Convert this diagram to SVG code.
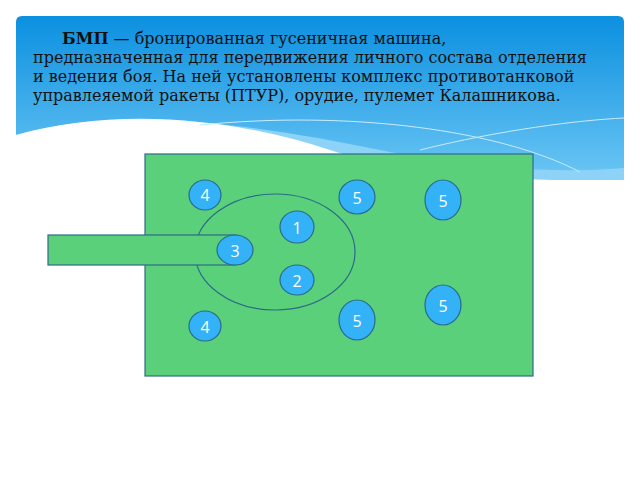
<svg xmlns="http://www.w3.org/2000/svg" width="640" height="480" viewBox="0 0 640 480">
<defs>
<linearGradient id="bg" x1="0" y1="0" x2="0" y2="1"><stop offset="0" stop-color="#0b90e0"/><stop offset="1" stop-color="#6cc6f4"/></linearGradient>
<style>
.t{font-family:"DejaVu Serif",serif;font-size:16px;fill:#111}
.c{fill:#33b2f7;stroke:#2a6a8c;stroke-width:1.2}
.n{font-family:"Open Sans","DejaVu Sans",sans-serif;font-size:16px;fill:#fff;text-anchor:middle}
</style>
</defs>
<rect width="640" height="480" fill="#fff"/>
<g id="header">
<path d="M16,22 Q16,16 22,16 H618 Q624,16 624,22 V180 H16 Z" fill="url(#bg)"/>
<path d="M16,135 C120,105 260,125 380,150 C450,165 540,175 624,168 V180 H16 Z" fill="#8dd3f7"/>
<path d="M16,135 C120,105 240,120 330,150 C390,170 470,180 640,182 V200 H0 V140 Z" fill="#fff"/>
<path d="M200,125 C350,110 500,130 580,172 M420,150 C500,130 580,120 624,118" fill="none" stroke="#c8ecfc" stroke-width="1"/>
<text class="t" x="62" y="44"><tspan font-weight="bold">БМП</tspan> — бронированная гусеничная машина,</text>
<text class="t" x="33" y="63">предназначенная для передвижения личного состава отделения</text>
<text class="t" x="33" y="82">и ведения боя. На ней установлены комплекс противотанковой</text>
<text class="t" x="33" y="101">управлеяемой ракеты (ПТУР), орудие, пулемет Калашникова.</text>
</g>
<g id="hull"><rect x="145" y="154" width="388" height="222" fill="#5bd07a" stroke="#2d6a8a" stroke-width="1.2"/></g>
<g id="turret"><ellipse cx="275" cy="252" rx="80" ry="58" fill="none" stroke="#2d6a8a" stroke-width="1.2"/></g>
<g id="gun"><rect x="48" y="235" width="188" height="30" fill="#5bd07a" stroke="#2d6a8a" stroke-width="1.2"/></g>
<g id="n4a"><ellipse class="c" cx="205" cy="195" rx="16" ry="15"/><text class="n" x="205" y="201">4</text></g>
<g id="n5a"><ellipse class="c" cx="357" cy="197" rx="18" ry="17"/><text class="n" x="357" y="204">5</text></g>
<g id="n5b"><ellipse class="c" cx="443" cy="200" rx="18" ry="20"/><text class="n" x="443" y="207">5</text></g>
<g id="n1"><ellipse class="c" cx="297" cy="227" rx="17" ry="16"/><text class="n" x="297" y="234">1</text></g>
<g id="n3"><ellipse class="c" cx="235" cy="250" rx="18" ry="15"/><text class="n" x="235" y="257">3</text></g>
<g id="n2"><ellipse class="c" cx="297" cy="280" rx="17" ry="15"/><text class="n" x="297" y="287">2</text></g>
<g id="n5c"><ellipse class="c" cx="443" cy="305" rx="18" ry="20"/><text class="n" x="443" y="312">5</text></g>
<g id="n5d"><ellipse class="c" cx="357" cy="320" rx="18" ry="20"/><text class="n" x="357" y="327">5</text></g>
<g id="n4b"><ellipse class="c" cx="205" cy="326" rx="16" ry="15"/><text class="n" x="205" y="333">4</text></g>
<g id="connectors"/>
</svg>
